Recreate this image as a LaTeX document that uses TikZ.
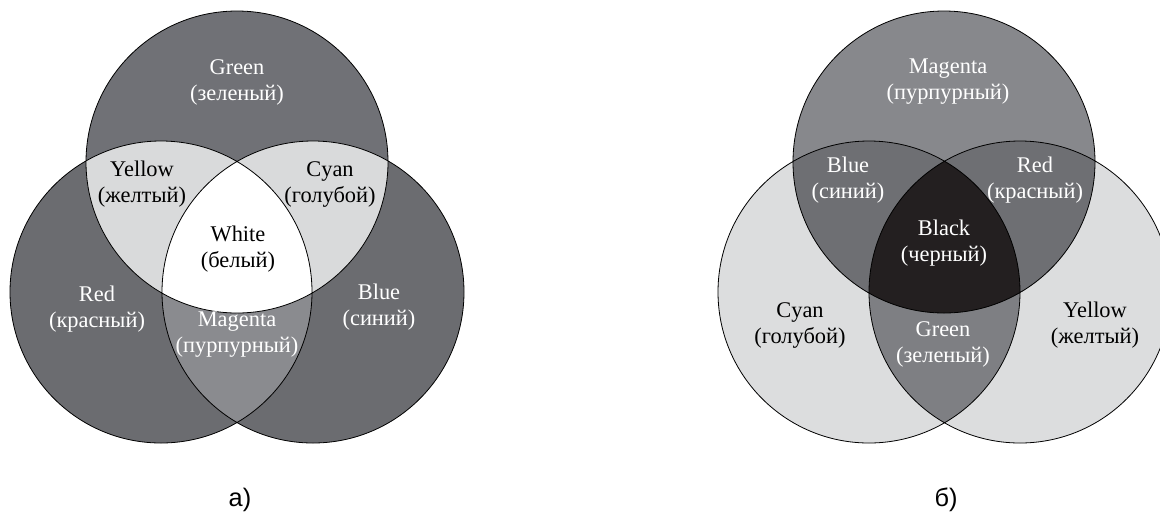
\documentclass[tikz,border=0pt]{standalone}
\usepackage{fontspec}
\setmainfont{Liberation Serif}
\newfontfamily\capfont{Liberation Sans}
\usetikzlibrary{positioning}
\definecolor{AddTop}{HTML}{707176}
\definecolor{AddSide}{HTML}{6B6C70}
\definecolor{AddMid}{HTML}{8A8B8F}
\definecolor{VennLight}{HTML}{D9DADB}
\definecolor{SubTop}{HTML}{87888C}
\definecolor{SubSide}{HTML}{DCDDDE}
\definecolor{SubPair}{HTML}{6E6F73}
\definecolor{SubLow}{HTML}{7E7F83}
\definecolor{SubCore}{HTML}{231F20}
\newcommand{\vennr}{113.25pt}

\begin{document}
\begin{tikzpicture}[x=0.75pt,y=-0.75pt,
  lbl/.style={align=center,font=\fontsize{16.8}{19.5}\selectfont},
  onDark/.style={lbl,text=white},
  outline/.style={draw=black,line width=0.6pt},
  caption/.style={font=\capfont\fontsize{19}{22}\selectfont}]
  \useasboundingbox (0,0) rectangle (1160,512);

  % a) additive mixing
  \coordinate (aG) at (237,162);
  \coordinate (aR) at (161,292);
  \coordinate (aB) at (313,292);
  \fill[AddTop] (aG) circle[radius=\vennr];
  \fill[AddSide] (aR) circle[radius=\vennr];
  \fill[AddSide] (aB) circle[radius=\vennr];
  \begin{scope}
    \clip (aG) circle[radius=\vennr];
    \fill[VennLight] (aR) circle[radius=\vennr];
    \fill[VennLight] (aB) circle[radius=\vennr];
  \end{scope}
  \begin{scope}
    \clip (aR) circle[radius=\vennr];
    \fill[AddMid] (aB) circle[radius=\vennr];
  \end{scope}
  \begin{scope}
    \clip (aG) circle[radius=\vennr];
    \clip (aR) circle[radius=\vennr];
    \fill[white] (aB) circle[radius=\vennr];
  \end{scope}
  \draw[outline] (aG) circle[radius=\vennr] (aR) circle[radius=\vennr] (aB) circle[radius=\vennr];

  \node[onDark] (aGreen) at (237,82) {Green\\(зеленый)};
  \node[lbl] (aYellow) at (142,184) {Yellow\\(желтый)};
  \node[lbl] (aCyan) at (330,184) {Cyan\\(голубой)};
  \node[lbl] (aWhite) at (238,249) {White\\(белый)};
  \node[onDark] (aRed) at (97,309) {Red\\(красный)};
  \node[onDark] (aBlue) at (379,307) {Blue\\(синий)};
  \node[onDark] (aMagenta) at (237,335) {Magenta\\(пурпурный)};

  % b) subtractive mixing
  \coordinate (bM) at (944,162);
  \coordinate (bC) at (869,292);
  \coordinate (bY) at (1020,292);
  \fill[SubSide] (bC) circle[radius=\vennr];
  \fill[SubSide] (bY) circle[radius=\vennr];
  \fill[SubTop] (bM) circle[radius=\vennr];
  \begin{scope}
    \clip (bM) circle[radius=\vennr];
    \fill[SubPair] (bC) circle[radius=\vennr];
    \fill[SubPair] (bY) circle[radius=\vennr];
  \end{scope}
  \begin{scope}
    \clip (bC) circle[radius=\vennr];
    \fill[SubLow] (bY) circle[radius=\vennr];
  \end{scope}
  \begin{scope}
    \clip (bM) circle[radius=\vennr];
    \clip (bC) circle[radius=\vennr];
    \fill[SubCore] (bY) circle[radius=\vennr];
  \end{scope}
  \draw[outline] (bM) circle[radius=\vennr] (bC) circle[radius=\vennr] (bY) circle[radius=\vennr];

  \node[onDark] (bMagenta) at (948,82) {Magenta\\(пурпурный)};
  \node[onDark] (bBlue) at (848,180) {Blue\\(синий)};
  \node[onDark] (bRed) at (1035,180) {Red\\(красный)};
  \node[onDark] (bBlack) at (944,243) {Black\\(черный)};
  \node[lbl] (bCyan) at (800,325) {Cyan\\(голубой)};
  \node[lbl] (bYellow) at (1095,325) {Yellow\\(желтый)};
  \node[onDark] (bGreen) at (943,344) {Green\\(зеленый)};

  \node[caption] (capA) at (240,500) {а)};
  \node[caption] (capB) at (946,500) {б)};
\end{tikzpicture}
\end{document}
